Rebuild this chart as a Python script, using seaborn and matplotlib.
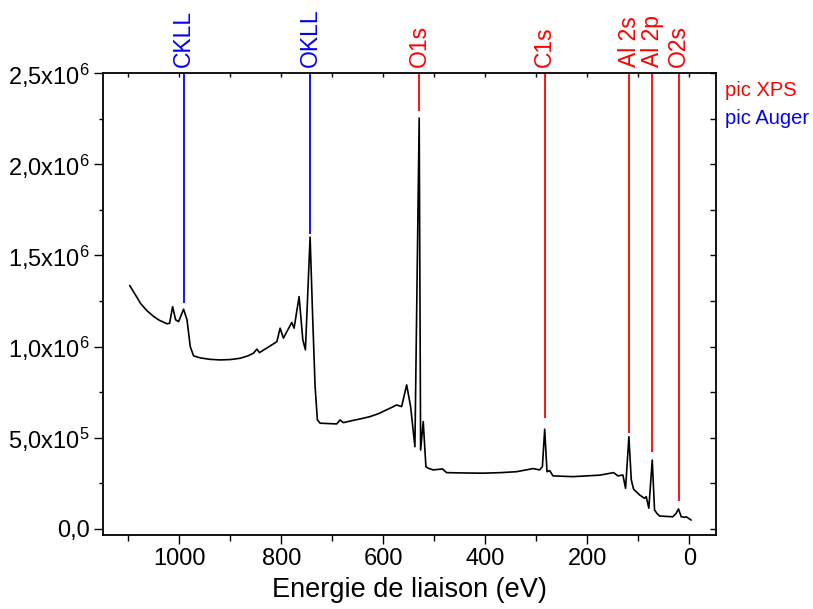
import matplotlib
matplotlib.use("Agg")
import matplotlib.pyplot as plt
import seaborn as sns
import pandas as pd
from matplotlib.ticker import MultipleLocator

# ---- data ----
energy_ev = [1097.7, 1090.0, 1083.0, 1076.7, 1065.0, 1050.7, 1040.0, 1024.5, 1019.4, 1013.5,
             1007.6, 1001.8, 992.0, 985.3, 978.9, 972.4, 959.3, 940.0, 920.1, 900.0,
             881.0, 865.0, 854.9, 848.3, 843.2, 830.0, 815.8, 809.1, 802.7, 796.2,
             788.0, 779.8, 775.3, 765.5, 758.2, 753.1, 743.9, 738.7, 734.1, 729.6,
             724.4, 700.0, 691.7, 685.2, 678.7, 660.0, 640.0, 626.5, 610.0, 597.1,
             585.0, 574.2, 564.4, 554.6, 546.8, 538.4, 530.0, 527.2, 522.1, 516.8,
             512.3, 502.5, 484.1, 476.3, 440.0, 404.7, 370.0, 339.3, 306.8, 293.7,
             288.4, 283.9, 279.4, 274.1, 267.6, 228.5, 176.2, 148.8, 140.4, 130.6,
             125.3, 118.8, 114.1, 109.6, 97.9, 88.1, 84.8, 79.7, 73.0, 68.5,
             64.0, 58.7, 32.7, 26.0, 21.5, 16.2, 9.8, 6.5, -3.3]
intensity = [1.335e6, 1.300e6, 1.268e6, 1.238e6, 1.200e6, 1.165e6, 1.145e6, 1.125e6, 1.128e6, 1.219e6,
             1.147e6, 1.137e6, 1.205e6, 1.147e6, 1.000e6, 0.949e6, 0.938e6, 0.930e6, 0.927e6, 0.929e6,
             0.936e6, 0.950e6, 0.964e6, 0.986e6, 0.967e6, 0.990e6, 1.015e6, 1.027e6, 1.101e6, 1.046e6,
             1.090e6, 1.132e6, 1.101e6, 1.274e6, 1.037e6, 0.982e6, 1.600e6, 1.146e6, 0.780e6, 0.598e6,
             0.580e6, 0.577e6, 0.576e6, 0.598e6, 0.583e6, 0.595e6, 0.607e6, 0.616e6, 0.632e6, 0.649e6,
             0.665e6, 0.680e6, 0.671e6, 0.790e6, 0.671e6, 0.451e6, 2.253e6, 0.433e6, 0.589e6, 0.342e6,
             0.333e6, 0.324e6, 0.329e6, 0.309e6, 0.307e6, 0.306e6, 0.309e6, 0.314e6, 0.331e6, 0.324e6,
             0.342e6, 0.547e6, 0.314e6, 0.320e6, 0.291e6, 0.287e6, 0.295e6, 0.309e6, 0.291e6, 0.296e6,
             0.223e6, 0.506e6, 0.269e6, 0.218e6, 0.187e6, 0.168e6, 0.177e6, 0.114e6, 0.378e6, 0.104e6,
             0.086e6, 0.071e6, 0.067e6, 0.086e6, 0.110e6, 0.067e6, 0.064e6, 0.067e6, 0.049e6]

peak_names = ["CKLL", "OKLL", "O1s", "C1s", "Al 2s", "Al 2p", "O2s"]
peak_energy = [992, 744, 530, 284, 118, 73, 21]
peak_line_bottom = [1.238e6, 1.62e6, 2.29e6, 0.607e6, 0.525e6, 0.424e6, 0.155e6]
peak_kind = ["Auger", "Auger", "XPS", "XPS", "XPS", "XPS", "XPS"]

kind_labels = ["pic XPS", "pic Auger"]
kind_colors = {"XPS": "#ff0000", "Auger": "#0000ff"}

x_ticks = [1000, 800, 600, 400, 200, 0]
y_ticks = [0, 0.5e6, 1.0e6, 1.5e6, 2.0e6, 2.5e6]
y_tick_labels = ["0,0", "5,0x10$^{5}$", "1,0x10$^{6}$", "1,5x10$^{6}$",
                 "2,0x10$^{6}$", "2,5x10$^{6}$"]
x_label = "Energie de liaison (eV)"

# ---- plotting ----
sns.set_style("ticks")
plt.rcParams["font.family"] = ["Liberation Sans", "DejaVu Sans"]
plt.rcParams["mathtext.fontset"] = "custom"
plt.rcParams["mathtext.rm"] = "Liberation Sans"
plt.rcParams["mathtext.it"] = "Liberation Sans"
plt.rcParams["mathtext.bf"] = "Liberation Sans"
plt.rcParams["text.color"] = "black"
plt.rcParams["axes.labelcolor"] = "black"
plt.rcParams["xtick.color"] = "black"
plt.rcParams["ytick.color"] = "black"

fig = plt.figure(figsize=(8.13, 6.09), dpi=100)
ax = fig.add_axes([103 / 813, 1 - 535 / 609, (716 - 103) / 813, (535 - 73) / 609])

df = pd.DataFrame({"energy": energy_ev, "intensity": intensity})
sns.lineplot(data=df, x="energy", y="intensity", ax=ax, color="black",
             linewidth=1.2, sort=False, estimator=None)

ax.set_xlim(1150, -52)
ax.set_ylim(-3.3e4, 2.5e6)

# peak markers
for name, e, yb, kind in zip(peak_names, peak_energy, peak_line_bottom, peak_kind):
    c = kind_colors[kind]
    ax.vlines(e, yb, 2.5e6, colors=c, linewidth=1.3)
    ax.annotate(name, xy=(e, 1.0), xycoords=("data", "axes fraction"),
                xytext=(0, 4), textcoords="offset points", rotation=90,
                ha="center", va="bottom", color=c, fontsize=16.5)

# axes styling
ax.set_xticks(x_ticks)
ax.set_xticklabels([str(t) for t in x_ticks])
ax.xaxis.set_minor_locator(MultipleLocator(100))
ax.set_yticks(y_ticks)
ax.set_yticklabels(y_tick_labels)
ax.yaxis.set_minor_locator(MultipleLocator(0.25e6))
ax.tick_params(axis="both", which="major", direction="out", length=6.5, width=1.0,
               labelsize=17, pad=3, color="black", labelcolor="black")
ax.tick_params(axis="x", which="minor", direction="out", length=4.5, width=1.0)
ax.tick_params(axis="y", which="minor", direction="out", length=3.0, width=1.0)
ax.set_xlabel(x_label, fontsize=19.5, labelpad=5, color="black")
ax.set_ylabel("")
for s in ax.spines.values():
    s.set_linewidth(1.3)
    s.set_visible(True)
    s.set_color("black")

# top and right inward ticks
secx = ax.secondary_xaxis("top")
secx.xaxis.set_major_locator(MultipleLocator(100))
secx.tick_params(direction="in", length=3, width=1.0, labeltop=False)
secx.spines["top"].set_visible(False)
secy = ax.secondary_yaxis("right")
secy.yaxis.set_major_locator(MultipleLocator(0.25e6))
secy.tick_params(direction="in", length=4, width=1.0, labelright=False)
secy.spines["right"].set_visible(False)

# legend-like labels
fig.text(725 / 813, 1 - 90 / 609, kind_labels[0], color=kind_colors["XPS"],
         fontsize=14.5, ha="left", va="center")
fig.text(725 / 813, 1 - 118 / 609, kind_labels[1], color=kind_colors["Auger"],
         fontsize=14.5, ha="left", va="center")

fig.savefig("out.png", dpi=100)
